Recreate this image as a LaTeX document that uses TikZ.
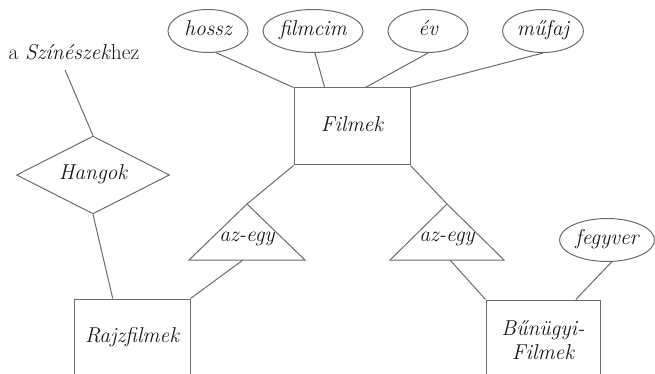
\documentclass[tikz,border=0pt]{standalone}
\usetikzlibrary{shapes.geometric}
\begin{document}
\begin{tikzpicture}[x=1pt,y=-1pt,
  every node/.style={font=\rmfamily\fontsize{21.5}{24}\selectfont\itshape, text=black!90, inner sep=0pt},
  line/.style={draw=black!58, line width=1pt},
  oneline/.style={text height=0.95em, text depth=0pt},
  attr/.style={line, ellipse, minimum height=43, oneline},
  entity/.style={line, rectangle},
  rel/.style={line, diamond, minimum width=153, minimum height=75, oneline},
  isa/.style={oneline}
]
\useasboundingbox (0,0) rectangle (655,374);
\clip (0,0) rectangle (655,374);

% attributes of Filmek
\node[attr, minimum width=80]  (hossz)   at (208,31)  {hossz};
\node[attr, minimum width=100] (filmcim) at (313,31)  {filmcim};
\node[attr, minimum width=80]  (ev)      at (428,31)  {év};
\node[attr, minimum width=81]  (mufaj)   at (543,31)  {műfaj};
\node[attr, minimum width=95]  (fegyver) at (607,240) {fegyver};

% entity sets
\node[entity, oneline, minimum width=116, minimum height=77] (film) at (352,126.5) {Filmek};
\node[entity, oneline, minimum width=116, minimum height=78] (rajz) at (132,338) {Rajzfilmek};
\node[entity, align=center, minimum width=114, minimum height=80] (bun) at (543,340) {Bűnügyi-\\Filmek};

% relationship
\node[rel] (hang) at (93,175) {Hangok};
\node[font=\rmfamily\fontsize{21.5}{24}\selectfont\upshape] (szin) at (74,52) {a \textit{Színészek}hez};
\coordinate (szinend) at (65,70);

% isa triangles
\coordinate (isaLtop) at (247,204);
\coordinate (isaLl) at (189,260);
\coordinate (isaLr) at (305,260);
\coordinate (isaLbase) at (243,260);
\node[isa] (isaL) at (247,237) {az-egy};
\coordinate (isaRtop) at (447,204);
\coordinate (isaRl) at (390,260);
\coordinate (isaRr) at (504,260);
\coordinate (isaRbase) at (450,260);
\node[isa] (isaR) at (447,237) {az-egy};
\draw[line] (isaLtop) -- (isaLl) -- (isaLr) -- cycle;
\draw[line] (isaRtop) -- (isaRl) -- (isaRr) -- cycle;

% connectors
\draw[line] (hossz.-70) -- (film.north west);
\draw[line] (filmcim.-85) -- (film.125);
\draw[line] (ev.south) -- (film.71);
\draw[line] (mufaj.south) -- (film.north east);
\draw[line] (film.south west) -- (isaLtop);
\draw[line] (film.south east) -- (isaRtop);
\draw[line] (isaLbase) -- (rajz.north east);
\draw[line] (isaRbase) -- (bun.north west);
\draw[line] (fegyver.-78) -- (bun.51);
\draw[line] (szinend) -- (hang.north);
\draw[line] (hang.south) -- (rajz.116.6);
\end{tikzpicture}
\end{document}
